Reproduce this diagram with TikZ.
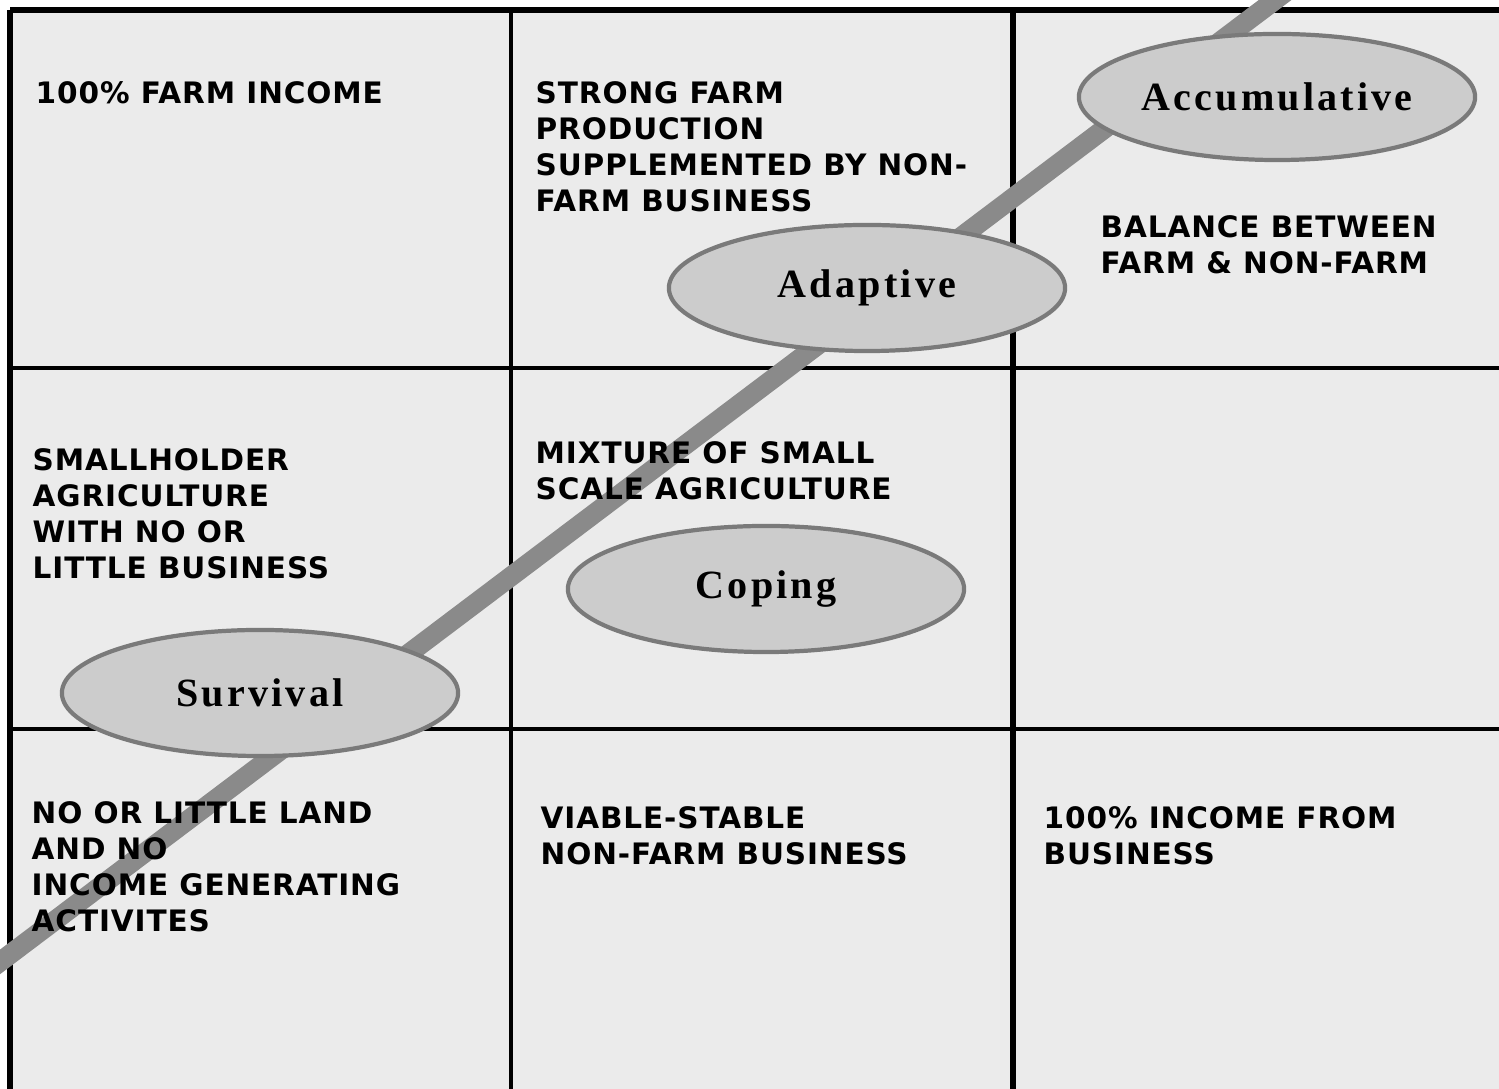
\documentclass[tikz,border=0pt]{standalone}
\usepackage{fontspec}
\setmainfont{Liberation Serif}
\newfontfamily\cellfont[LetterSpace=3]{DejaVu Sans}
\newfontfamily\stagefont[LetterSpace=8]{Liberation Serif}
\usetikzlibrary{shapes.geometric}
\definecolor{cellgray}{gray}{0.92}
\definecolor{ovalgray}{gray}{0.80}
\definecolor{rimgray}{gray}{0.48}
\definecolor{pathgray}{gray}{0.54}

\begin{document}
\begin{tikzpicture}[x=0.01cm, y=-0.01cm,
    celltext/.style={anchor=north west, align=left, inner sep=0pt,
      font=\cellfont\bfseries\fontsize{8.4}{10.2}\selectfont},
    stage/.style={ellipse, draw=rimgray, line width=1.2pt, fill=ovalgray,
      minimum width=3.96cm, minimum height=1.26cm, inner sep=0pt,
      font=\stagefont\bfseries\fontsize{11.4}{12}\selectfont},
    rule/.style={line width=.9pt},
    boldrule/.style={line width=1.8pt}]
  \useasboundingbox (0,0) rectangle (1499,1089);

        % cells and grid
        \fill[cellgray] (10,10) rectangle (1499,1089);
        \draw[boldrule] (10,10) -- (1499,10);
        \draw[boldrule] (10,10) -- (10,1089);
        \draw[rule] (511,10) -- (511,1089);
        \draw[boldrule] (1013,10) -- (1013,1089);
        \draw[rule] (10,368) -- (1499,368);
        \draw[rule] (10,729) -- (1499,729);

        % path through the stages (runs off the page at both ends)
        \coordinate (low) at (-20,977);
        \coordinate (high) at (1295,-15);
        \path[draw, pathgray, line width=5.6pt] (low) -- (high);

        \node[stage] (survival) at (260,693) {Survival};
        \node[stage] (coping) at (766,589) {Coping};
        \node[stage] (adaptive) at (867,288) {Adaptive};
        \node[stage] (accum) at (1277,97) {Accumulative};

        % cell texts
        \node[celltext] (farm) at (35,81) {100\% FARM INCOME};
        \node[celltext] (strong) at (535,81) {STRONG FARM\\PRODUCTION\\SUPPLEMENTED BY NON-\\FARM BUSINESS};
        \node[celltext] (balance) at (1100,215) {BALANCE BETWEEN\\FARM \& NON-FARM};
        \node[celltext] (small) at (32,448) {SMALLHOLDER\\AGRICULTURE\\WITH NO OR\\LITTLE BUSINESS};
        \node[celltext] (mixture) at (535,441) {MIXTURE OF SMALL\\SCALE AGRICULTURE};
        \node[celltext] (noland) at (31,801) {NO OR LITTLE LAND\\AND NO\\INCOME GENERATING\\ACTIVITES};
        \node[celltext] (viable) at (540,806) {VIABLE-STABLE\\NON-FARM BUSINESS};
        \node[celltext] (business) at (1043,806) {100\% INCOME FROM\\BUSINESS};
\end{tikzpicture}
\end{document}
